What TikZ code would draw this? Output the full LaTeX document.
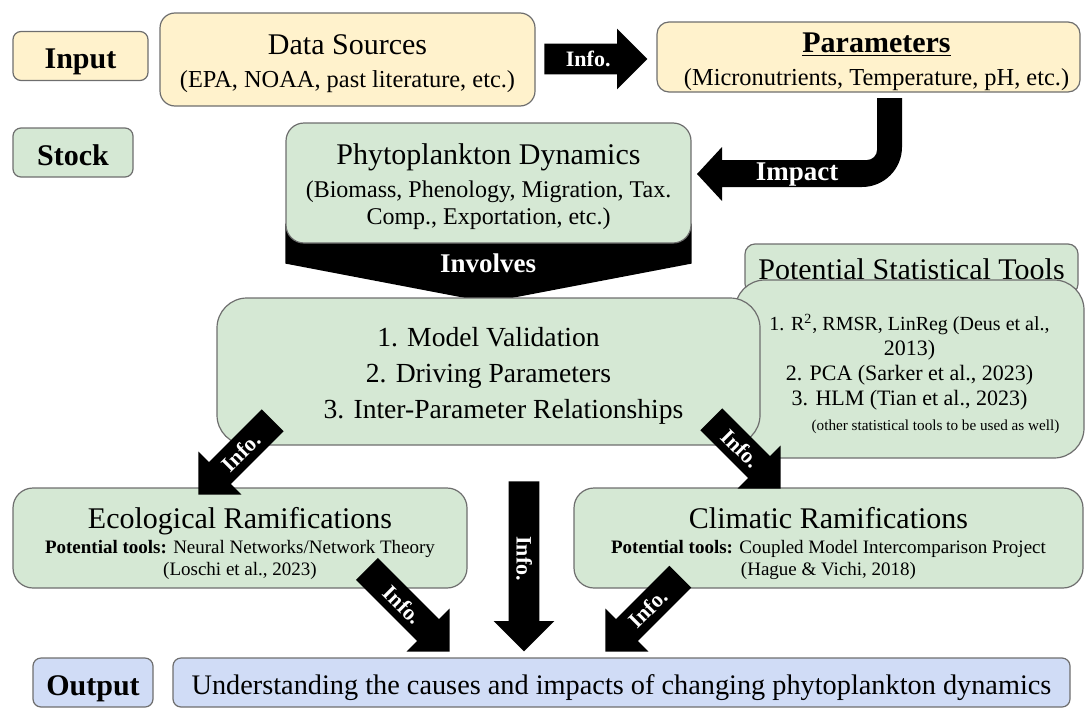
\documentclass[tikz,border=0pt]{standalone}
\usepackage{fontspec}
\setmainfont{Liberation Serif}
\usepackage{tikz}
\usetikzlibrary{shapes.arrows, positioning, calc, backgrounds}
\definecolor{inputyellow}{HTML}{FFF2CC}
\definecolor{stockgreen}{HTML}{D5E8D4}
\definecolor{outputblue}{HTML}{D0DCF6}
\definecolor{edgegray}{HTML}{6E6E6E}
\newcommand{\fs}[2]{\fontsize{#1}{#2}\selectfont}
\newcommand{\lift}[1]{\rule{0pt}{#1}}
\tikzset{
  % Box styles
  box/.style={rectangle, draw=edgegray, line width=0.6pt, align=center, inner sep=0pt, text=black},
  tag/.style={box, rounded corners=4pt, minimum width=#1, minimum height=24.5pt,
    text height=12.6pt, text depth=0pt, font=\fs{15}{18}\bfseries},
  tag/.default={60pt},
  % Block arrow styles
  infoarrow/.style={single arrow, fill=black, text=white, font=\fs{11}{12}\bfseries,
    single arrow head extend=7.5pt, single arrow tip angle=90, text height=7.5pt, text depth=0pt,
    inner ysep=3.75pt, inner xsep=0pt, anchor=tip, minimum height=#1},
  flip/.style={shape border rotate=180},
  bigtext/.style={font=\fs{13.5}{15}\bfseries, text=white},
}

\begin{document}
\begin{tikzpicture}[x=0.5pt, y=-0.5pt]
    \useasboundingbox (0,0) rectangle (1085,712);
    % Row labels
    \node[tag=67.5pt, fill=inputyellow] (input) at (80.5,56) {Input};
    \node[tag, fill=stockgreen] (stock) at (73,152.5) {Stock};
    \node[tag, fill=outputblue] (outlabel) at (93,682.5) {Output};
    % Input row
    \node[box, fill=inputyellow, rounded corners=7.5pt, minimum width=187.5pt, minimum height=46.5pt,
      font=\fs{12.2}{16.5}] (data) at (347.5,59.5)
      {{\fs{15}{16.5}\lift{14.1pt}Data Sources}\\(EPA, NOAA, past literature, etc.)};
    \node[box, fill=inputyellow, rounded corners=6pt, minimum width=211.5pt, minimum height=35pt,
      font=\fs{12.2}{16.5}] (param) at (868.5,57)
      {\hspace*{8pt}{\fs{15}{16.5}\bfseries\lift{14.9pt}\underline{Parameters}}\\\hspace*{8pt}(Micronutrients, Temperature, pH, etc.)};
    \node[infoarrow=51.5pt] (infotop) at (648,59) {Info.};
    % Stock row
    \node[box, fill=stockgreen, rounded corners=9pt, minimum width=202.5pt, minimum height=60pt,
      font=\fs{12}{13.5}] (phyto) at (488.5,183)
      {{\fs{15}{16.5}\lift{13.7pt}Phytoplankton Dynamics}\\[3pt](Biomass, Phenology, Migration, Tax.\\Comp., Exportation, etc.)};
    % Impact arrow
    \fill (877,98) -- (902,98) -- (902,147) arc[start angle=0, end angle=90, radius=40]
      -- (722,187) -- (722,201) -- (697,174) -- (722,147) -- (722,160) -- (867,160)
      arc[start angle=90, end angle=0, radius=10] -- cycle;
    \node[bigtext] (impact) at (797,175) {Impact};
    % Statistical tools
    \node[box, fill=stockgreen, rounded corners=5pt, minimum width=166.5pt, minimum height=25pt,
      font=\fs{15}{18}] (stathead) at (911.5,269) {Potential Statistical Tools};
    \node[box, fill=stockgreen, rounded corners=15pt, minimum width=174.5pt, minimum height=89pt,
      font=\fs{11}{12.5}] (stats) at (909.5,369)
      {{\fs{10}{12.5}\lift{13.3pt}1. R\textsuperscript{2}, RMSR, LinReg (Deus et al.,}\\2013)\\2. PCA (Sarker et al., 2023)\\
       3. HLM (Tian et al., 2023)\\\hspace*{26pt}{\fs{7.6}{8}(other statistical tools to be used as well)}};
    % Model box
    \node[box, fill=stockgreen, rounded corners=15pt, minimum width=271.5pt, minimum height=73.5pt,
      font=\fs{13.8}{18}] (model) at (488.5,371.5)
      {\lift{14.4pt}1. Model Validation\\2. Driving Parameters\\\hspace*{15pt}3. Inter-Parameter Relationships};
    % Involves arrow
    \begin{scope}[on background layer]
      \fill (phyto.south west) -- ++(0,20) -- ($(model.north)+(0,5)$) -- ($(phyto.south east)+(0,20)$)
        -- ($(phyto.south east)+(0,-20)$) -- ($(phyto.south west)+(0,-20)$) -- cycle;
    \end{scope}
    \node[bigtext] (involves) at (488,263) {Involves};
    % Ramifications
    \node[box, fill=stockgreen, rounded corners=10pt, minimum width=227pt, minimum height=50pt,
      font=\fs{9.5}{11}] (eco) at (240,538)
      {{\fs{15}{16.5}\lift{16.25pt}Ecological Ramifications}\\[1.5pt]\textbf{Potential tools:} Neural Networks/Network Theory\\(Loschi et al., 2023)};
    \node[box, fill=stockgreen, rounded corners=10pt, minimum width=254.5pt, minimum height=50pt,
      font=\fs{9.5}{11}] (clim) at (828.5,538)
      {{\fs{15}{16.5}\lift{16.25pt}Climatic Ramifications}\\[1.5pt]\textbf{Potential tools:} Coupled Model Intercomparison Project\\(Hague \& Vichi, 2018)};
    % Output row
    \node[box, fill=outputblue, rounded corners=4pt, minimum width=448.5pt, minimum height=24.5pt,
      text height=12pt, text depth=0pt, font=\fs{14.15}{16}] (result) at (621.5,682.5)
      {Understanding the causes and impacts of changing phytoplankton dynamics};
    % Info arrows
    \node[infoarrow=52.5pt, rotate=45, flip] (infoeco) at (198,495) {Info.};
    \node[infoarrow=49pt, rotate=-45] (infoclim) at (781,489) {Info.};
    \node[infoarrow=85pt, rotate=-90] (infomid) at (524,652) {Info.};
    \node[infoarrow=58.5pt, rotate=-45] (infoleft) at (450,652) {Info.};
    \node[infoarrow=53pt, rotate=45, flip] (inforight) at (605,652) {Info.};
\end{tikzpicture}
\end{document}
